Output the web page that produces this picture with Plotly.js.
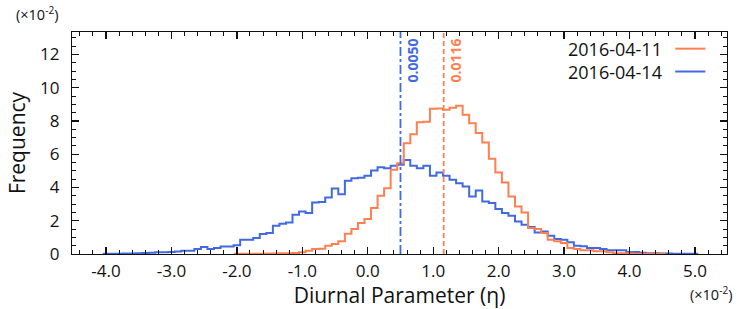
<!DOCTYPE html>
<html>
<head>
<meta charset="utf-8">
<script src="https://cdn.plot.ly/plotly-3.0.1.min.js"></script>
<style>html,body{margin:0;padding:0;background:#fff;}#chart{width:747px;height:309px;}</style>
</head>
<body>
<div id="chart"></div>
<script>
// Bin width and first bin centre (units of 1e-2)
const binWidth = 0.1;
const blueStart = -4.0;
const orangeStart = -2.0;

const seriesNames = ['2016-04-11', '2016-04-14'];
const seriesColors = ['#FF7F50', '#4169E1'];

// 2016-04-14 frequencies (x1e-2), bins -4.0 ... 4.5
const blueValues = [
  0.02,0.02,0.02,0.03,0.03,0.05,0.06,0.08,0.10,0.10,
  0.12,0.15,0.20,0.20,0.30,0.42,0.30,0.36,0.45,0.45,
  0.52,0.86,0.86,0.96,1.20,1.26,1.70,1.82,1.90,2.36,
  2.56,2.46,3.10,3.12,3.40,3.94,3.60,4.40,4.56,4.58,
  4.70,5.02,5.22,5.16,5.30,5.36,5.66,5.30,5.16,5.30,
  4.70,4.90,4.70,4.46,4.26,4.06,3.46,3.82,3.16,3.06,
  2.70,2.46,2.30,1.96,1.76,1.62,1.30,1.36,1.10,0.90,
  0.86,0.70,0.50,0.46,0.36,0.36,0.30,0.22,0.22,0.22,
  0.12,0.12,0.08,0.05,0.05,0.03,0.03,0.02,0.02,0.02,0.01
];

// 2016-04-11 frequencies (x1e-2), bins -2.0 ... 4.5
const orangeValues = [
  0.02,0.02,0.02,0.02,0.02,0.03,0.03,0.04,0.05,0.06,
  0.10,0.20,0.30,0.32,0.50,0.60,0.76,1.22,1.50,1.86,
  2.10,2.76,3.50,3.96,5.06,5.46,6.66,7.20,7.93,7.95,
  8.73,8.75,8.67,8.80,8.92,8.37,7.87,7.27,6.70,5.73,
  4.90,4.30,3.46,2.86,2.50,1.56,1.50,1.26,0.86,0.76,
  0.66,0.36,0.30,0.22,0.22,0.16,0.16,0.10,0.05,0.04,
  0.03,0.02,0.02,0.01,0.01,0.01
];

// Mean diurnal parameters (orange, blue)
const markerValues = [0.0116, 0.0050];
const markerLabels = ['0.0116', '0.0050'];
const markerDash = ['5px,3px', 'dashdot'];

const xTickVals = [-4, -3, -2, -1, 0, 1, 2, 3, 4, 5];
const xTickText = ['-4.0','-3.0','-2.0','-1.0','0.0','1.0','2.0','3.0','4.0','5.0'];
const yTickVals = [0, 2, 4, 6, 8, 10, 12];
const yTickText = ['0','2','4','6','8','10','12'];

function stepXY(start, vals) {
  const xs = [], ys = [];
  for (let i = 0; i < vals.length; i++) {
    xs.push(+(start + i * binWidth - binWidth / 2).toFixed(4));
    ys.push(vals[i]);
  }
  xs.push(+(start + vals.length * binWidth - binWidth / 2).toFixed(4));
  ys.push(vals[vals.length - 1]);
  return {xs, ys};
}

const o = stepXY(orangeStart, orangeValues);
const b = stepXY(blueStart, blueValues);

const FONT = 'Open Sans, Noto Sans, DejaVu Sans, sans-serif';

const traces = [
  {x: b.xs, y: b.ys, type: 'scatter', mode: 'lines', line: {shape: 'hv', color: seriesColors[1], width: 2}, name: seriesNames[1], showlegend: false, hoverinfo: 'skip'},
  {x: o.xs, y: o.ys, type: 'scatter', mode: 'lines', line: {shape: 'hv', color: seriesColors[0], width: 2}, name: seriesNames[0], showlegend: false, hoverinfo: 'skip'}
];

const shapes = [];
const annotations = [];
markerValues.forEach((v, i) => {
  shapes.push({type: 'line', xref: 'x', yref: 'paper', x0: v * 100, x1: v * 100, y0: 0, y1: 1,
    line: {color: seriesColors[i], width: 1.8, dash: markerDash[i]}});
  annotations.push({xref: 'x', yref: 'paper', x: v * 100, y: 0.98, xanchor: 'left', yanchor: 'top',
    xshift: 0, text: '<b>' + markerLabels[i] + '</b>', textangle: -90, showarrow: false,
    font: {family: FONT, size: 14, color: seriesColors[i]}});
});

// legend (text left of line sample)
const legY = [0.925, 0.822];
seriesNames.forEach((n, i) => {
  annotations.push({xref: 'paper', yref: 'paper', x: 0.903, y: legY[i], xanchor: 'right', yanchor: 'middle',
    text: n, showarrow: false, borderpad: 0, font: {family: FONT, size: 18, color: '#111'}});
  shapes.push({type: 'line', xref: 'paper', yref: 'paper', x0: 0.921, x1: 0.967, y0: legY[i], y1: legY[i],
    line: {color: seriesColors[i], width: 2}});
});

annotations.push({xref: 'paper', yref: 'paper', x: -0.052, y: 1.025, xanchor: 'center', yanchor: 'bottom',
  text: '(×10<sup>-2</sup>)', showarrow: false, font: {family: FONT, size: 14.5, color: '#111'}});
annotations.push({xref: 'paper', yref: 'paper', x: 1.0, y: -0.12, xanchor: 'left', yanchor: 'top', xshift: -39,
  text: '(×10<sup>-2</sup>)', showarrow: false, font: {family: FONT, size: 14.5, color: '#111'}});

const layout = {
  width: 747, height: 309,
  margin: {l: 72, r: 20, t: 32, b: 55},
  paper_bgcolor: '#fff', plot_bgcolor: '#fff',
  font: {family: FONT, color: '#111'},
  showlegend: false,
  xaxis: {
    range: [-4.52, 5.49], showgrid: false, zeroline: false, automargin: false,
    showline: true, linecolor: '#111', linewidth: 1.2, mirror: 'allticks',
    ticks: 'inside', ticklen: 7, tickwidth: 1.2, tickcolor: '#111',
    tickmode: 'array', tickvals: xTickVals, ticktext: xTickText,
    tickfont: {family: FONT, size: 17, color: '#111'}, ticklabelstandoff: 1,
    minor: {tickmode: 'linear', tick0: 0, dtick: 0.2, ticklen: 4, tickwidth: 1, tickcolor: '#111', ticks: 'inside', showgrid: false},
    title: {text: 'Diurnal Parameter (η)', font: {family: FONT, size: 21, color: '#111'}, standoff: 8}
  },
  yaxis: {
    range: [0, 13.35], showgrid: false, zeroline: false, automargin: false,
    showline: true, linecolor: '#111', linewidth: 1.2, mirror: 'allticks',
    ticks: 'inside', ticklen: 7, tickwidth: 1.2, tickcolor: '#111',
    tickmode: 'array', tickvals: yTickVals, ticktext: yTickText,
    tickfont: {family: FONT, size: 17, color: '#111'}, ticklabelstandoff: 8,
    minor: {tickmode: 'linear', tick0: 0, dtick: 0.5, ticklen: 4, tickwidth: 1, tickcolor: '#111', ticks: 'inside', showgrid: false},
    title: {text: 'Frequency', font: {family: FONT, size: 21, color: '#111'}, standoff: 8}
  },
  shapes: shapes,
  annotations: annotations
};

Plotly.newPlot('chart', traces, layout, {displayModeBar: false, staticPlot: true});
</script>
</body>
</html>
